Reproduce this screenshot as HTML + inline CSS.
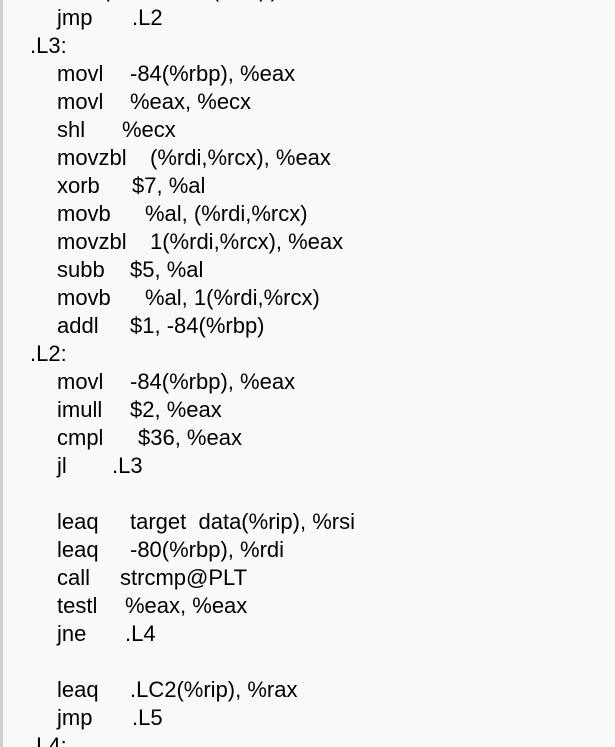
<!DOCTYPE html>
<html><head><meta charset="utf-8"><style>
html,body{margin:0;padding:0;width:615px;height:747px;overflow:hidden;background:#f9f9f9;}
body{position:relative;font-family:"Liberation Sans",sans-serif;font-size:22px;color:#000;}
.bar{position:absolute;left:0;top:0;width:3px;height:747px;background:#cfcfcf;}
.l{position:absolute;height:28px;line-height:28px;white-space:pre;left:0;width:615px;}
.l span{position:absolute;top:0;}
</style></head><body>
<div class="bar"></div>
<div class="l" style="top:-24px"><span style="left:57px">movq</span><span style="left:130px">%rax, -8(%rbp)</span></div>
<div class="l" style="top:4px"><span style="left:57px">jmp</span><span style="left:132px">.L2</span></div>
<div class="l" style="top:32px"><span style="left:30px">.L3:</span></div>
<div class="l" style="top:60px"><span style="left:57px">movl</span><span style="left:130px">-84(%rbp), %eax</span></div>
<div class="l" style="top:88px"><span style="left:57px">movl</span><span style="left:130px">%eax, %ecx</span></div>
<div class="l" style="top:116px"><span style="left:57px">shl</span><span style="left:122px">%ecx</span></div>
<div class="l" style="top:144px"><span style="left:57px">movzbl</span><span style="left:150px">(%rdi,%rcx), %eax</span></div>
<div class="l" style="top:172px"><span style="left:57px">xorb</span><span style="left:132px">$7, %al</span></div>
<div class="l" style="top:200px"><span style="left:57px">movb</span><span style="left:145px">%al, (%rdi,%rcx)</span></div>
<div class="l" style="top:228px"><span style="left:57px">movzbl</span><span style="left:150px">1(%rdi,%rcx), %eax</span></div>
<div class="l" style="top:256px"><span style="left:57px">subb</span><span style="left:130px">$5, %al</span></div>
<div class="l" style="top:284px"><span style="left:57px">movb</span><span style="left:145px">%al, 1(%rdi,%rcx)</span></div>
<div class="l" style="top:312px"><span style="left:57px">addl</span><span style="left:130px">$1, -84(%rbp)</span></div>
<div class="l" style="top:340px"><span style="left:30px">.L2:</span></div>
<div class="l" style="top:368px"><span style="left:57px">movl</span><span style="left:130px">-84(%rbp), %eax</span></div>
<div class="l" style="top:396px"><span style="left:57px">imull</span><span style="left:130px">$2, %eax</span></div>
<div class="l" style="top:424px"><span style="left:57px">cmpl</span><span style="left:138px">$36, %eax</span></div>
<div class="l" style="top:452px"><span style="left:57px">jl</span><span style="left:112px">.L3</span></div>
<div class="l" style="top:508px"><span style="left:57px">leaq</span><span style="left:130px">target  data(%rip), %rsi</span></div>
<div class="l" style="top:536px"><span style="left:57px">leaq</span><span style="left:130px">-80(%rbp), %rdi</span></div>
<div class="l" style="top:564px"><span style="left:57px">call</span><span style="left:120px">strcmp@PLT</span></div>
<div class="l" style="top:592px"><span style="left:57px">testl</span><span style="left:125px">%eax, %eax</span></div>
<div class="l" style="top:620px"><span style="left:57px">jne</span><span style="left:125px">.L4</span></div>
<div class="l" style="top:676px"><span style="left:57px">leaq</span><span style="left:130px">.LC2(%rip), %rax</span></div>
<div class="l" style="top:704px"><span style="left:57px">jmp</span><span style="left:132px">.L5</span></div>
<div class="l" style="top:732px"><span style="left:30px">.L4:</span></div>
</body></html>
